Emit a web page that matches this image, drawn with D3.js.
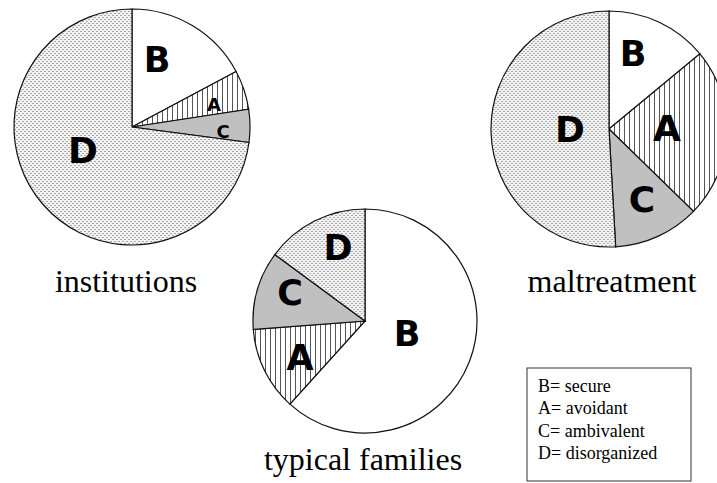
<!DOCTYPE html>
<html>
<head>
<meta charset="utf-8">
<script src="https://cdn.jsdelivr.net/npm/d3@7"></script>
<style>
  body { margin: 0; background: #fff; }
  svg { display: block; }
</style>
</head>
<body>
<div id="viz"></div>
<script>
// Data: share of each attachment type per group, in slice order clockwise from 12 o'clock
const types = ['B', 'A', 'C', 'D']
const institutions = [17.2, 5.4, 4.5, 72.9]
const maltreatment = [14.0, 23.3, 11.8, 50.9]
const typicalFamilies = [61.7, 12.1, 11.3, 14.9]
const groupNames = ['institutions', 'maltreatment', 'typical families']
const legendLabels = ['B= secure', 'A= avoidant', 'C= ambivalent', 'D= disorganized']

const width = 717, height = 483

const svg = d3.select('#viz').append('svg')
    .attr('width', width)
    .attr('height', height)

// fill patterns for the slices
const defs = svg.append('defs')

const dots = defs.append('pattern')
    .attr('id', 'dots')
    .attr('patternUnits', 'userSpaceOnUse')
    .attr('width', 4).attr('height', 4)
dots.append('rect').attr('width', 4).attr('height', 4).attr('fill', '#f2f2f2')
dots.append('rect').attr('x', 0).attr('y', 0).attr('width', 2).attr('height', 1).attr('fill', '#a8a8a8')
dots.append('rect').attr('x', 2).attr('y', 2).attr('width', 2).attr('height', 1).attr('fill', '#a8a8a8')

const stripes = defs.append('pattern')
    .attr('id', 'stripes')
    .attr('patternUnits', 'userSpaceOnUse')
    .attr('width', 5).attr('height', 5)
stripes.append('rect').attr('width', 5).attr('height', 5).attr('fill', '#fff')
stripes.append('line')
    .attr('x1', 0.5).attr('x2', 0.5).attr('y1', 0).attr('y2', 5)
    .attr('stroke', '#555').attr('stroke-width', 1)

const fills = d3.scaleOrdinal()
    .domain(types)
    .range(['#ffffff', 'url(#stripes)', '#c0c0c0', 'url(#dots)'])

const pie = d3.pie().sort(null).value(d => d)

// one entry per pie: where it sits and how the labels look
const pies = [
  {data: institutions, cx: 132, cy: 127, r: 118, title: groupNames[0], tx: 126, ty: 292,
   labels: [{x: 157, y: 60, s: 35}, {x: 214, y: 104, s: 18}, {x: 223, y: 131, s: 18}, {x: 83, y: 150, s: 36}]},
  {data: maltreatment, cx: 609, cy: 129, r: 118, title: groupNames[1], tx: 612, ty: 292,
   labels: [{x: 633, y: 54, s: 35}, {x: 667, y: 128, s: 36}, {x: 642, y: 199, s: 36}, {x: 570, y: 129, s: 36}]},
  {data: typicalFamilies, cx: 365, cy: 321, r: 112, title: groupNames[2], tx: 363, ty: 470,
   labels: [{x: 407, y: 334, s: 35}, {x: 300, y: 358, s: 35}, {x: 290, y: 293, s: 35}, {x: 338, y: 248, s: 35}]}
]

pies.forEach(p => {
  const arc = d3.arc().innerRadius(0).outerRadius(p.r)
  const g = svg.append('g').attr('transform', `translate(${p.cx},${p.cy})`)

  g.selectAll('path')
      .data(pie(p.data))
      .enter()
      .append('path')
      .attr('d', arc)
      .attr('fill', (d, i) => fills(types[i]))
      .attr('stroke', '#111')
      .attr('stroke-width', 1.2)

  svg.selectAll(null)
      .data(p.labels)
      .enter()
      .append('text')
      .attr('x', d => d.x)
      .attr('y', d => d.y)
      .attr('text-anchor', 'middle')
      .attr('dominant-baseline', 'central')
      .style('font-family', '"DejaVu Sans", Verdana, sans-serif')
      .style('font-weight', 'bold')
      .style('font-size', d => d.s + 'px')
      .text((d, i) => types[i])

  svg.append('text')
      .attr('x', p.tx)
      .attr('y', p.ty)
      .attr('text-anchor', 'middle')
      .style('font-family', '"Liberation Serif", "Times New Roman", serif')
      .style('font-size', '32px')
      .text(p.title)
})

// legend box
const legend = svg.append('g').attr('transform', 'translate(527,368)')
legend.append('rect')
    .attr('width', 164).attr('height', 113)
    .attr('fill', '#fff')
    .attr('stroke', '#333')
    .attr('stroke-width', 1)

legend.selectAll('text')
    .data(legendLabels)
    .enter()
    .append('text')
    .attr('x', 11)
    .attr('y', (d, i) => 24 + i * 22.3)
    .style('font-family', '"Liberation Serif", "Times New Roman", serif')
    .style('font-size', '18px')
    .text(d => d)
</script>
</body>
</html>
